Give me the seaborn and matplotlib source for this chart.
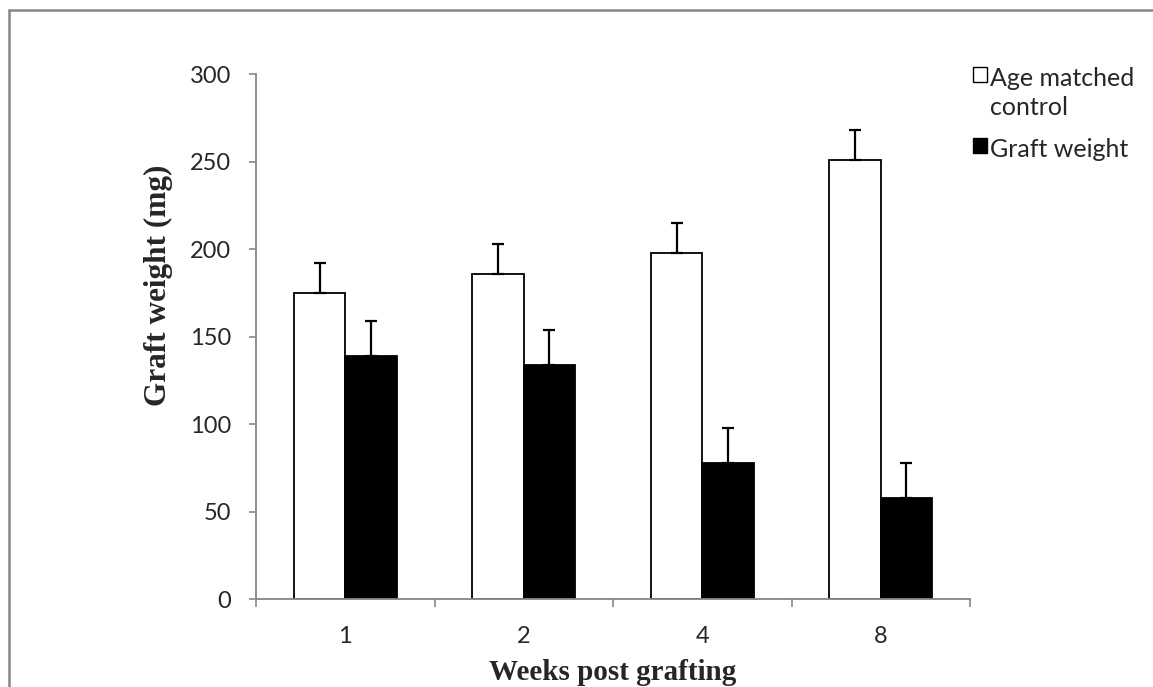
import pandas as pd
import matplotlib.pyplot as plt
import matplotlib.lines as mlines
import seaborn as sns

# datos
semanas = ["1", "2", "4", "8"]
control = [175, 186, 198, 251]
control_err = [17, 17, 17, 17]
injerto = [139, 134, 78, 58]
injerto_err = [20, 20, 20, 20]
series = ["Age matched\ncontrol", "Graft weight"]

df = pd.DataFrame({
    "Semana": semanas * 2,
    "Peso": control + injerto,
    "Error": control_err + injerto_err,
    "Serie": [series[0]] * 4 + [series[1]] * 4,
})

sns.set_style("white")
plt.rcParams["font.family"] = ["Lato", "DejaVu Sans"]
gris = "#868686"

fig = plt.figure(figsize=(11.53, 6.87), dpi=100)
ax = fig.add_axes([256 / 1153, 1 - 599.3 / 687, (970 - 256) / 1153, (599.3 - 74.3) / 687])

sns.barplot(x="Semana", y="Peso", hue="Serie", data=df, order=semanas, hue_order=series,
            palette=["white", "black"], edgecolor="black", linewidth=1.3,
            width=0.575, errorbar=None, ax=ax)

# barras de error solo hacia arriba
for cont, serie in zip(ax.containers, series):
    sub = df[df["Serie"] == serie]
    xs = [p.get_x() + p.get_width() / 2 for p in cont.patches]
    ax.errorbar(xs, sub["Peso"], yerr=[[0] * len(xs), sub["Error"]], fmt="none",
                ecolor="black", elinewidth=1.6, capsize=4.5, capthick=1.6, zorder=5)

ax.set_ylim(0, 300)
ax.set_xlim(-0.5, 3.5)
ax.set_yticks([0, 50, 100, 150, 200, 250, 300])
ax.set_xticks([-0.5, 0.5, 1.5, 2.5, 3.5])
ax.set_xticklabels([])
ax.set_xticks([0, 1, 2, 3], minor=True)
ax.set_xticklabels(semanas, minor=True)
ax.tick_params(axis="x", which="major", direction="out", length=6, width=1.2, color=gris)
ax.tick_params(axis="x", which="minor", length=0, pad=19, labelsize=17)
ax.tick_params(axis="y", direction="out", length=5, width=1.2, color=gris, pad=13, labelsize=17)
ax.tick_params(left=True, bottom=True)
for lado in ["top", "right"]:
    ax.spines[lado].set_visible(False)
for lado in ["left", "bottom"]:
    ax.spines[lado].set_color(gris)
    ax.spines[lado].set_linewidth(1.3)
ax.set_xlabel("")
ax.set_ylabel("")

fig.text(158 / 1153, 1 - 285 / 687, "Graft weight (mg)", rotation=90, ha="center", va="center",
         family="Liberation Serif", fontweight="bold", fontsize=22.5)
fig.text(613 / 1153, 1.5 / 687, "Weeks post grafting", ha="center", va="bottom",
         family="Liberation Serif", fontweight="bold", fontsize=21)

ax.legend_.remove()
handles, labels = ax.get_legend_handles_labels()
leg = fig.legend(handles, labels, loc="upper left", bbox_to_anchor=(963 / 1153, 1 - 57 / 687),
                 frameon=False, fontsize=18, handlelength=0.55, handleheight=0.55,
                 handletextpad=0.12, labelspacing=0.78, borderaxespad=0)
for t in leg.get_texts():
    t.set_multialignment("left")
    t.set_linespacing(1.3)
for col in leg._legend_handle_box.get_children():
    for fila in col.get_children():
        fila.align = "top"
for h in leg.legend_handles:
    h.set_linewidth(1.0)

# marco del grafico
fig.add_artist(mlines.Line2D([9 / 1153, 9 / 1153], [0, 1 - 10 / 687], color=gris, lw=1.8))
fig.add_artist(mlines.Line2D([9 / 1153, 1], [1 - 10 / 687, 1 - 10 / 687], color=gris, lw=1.8))

fig.savefig("out.png", dpi=100)
